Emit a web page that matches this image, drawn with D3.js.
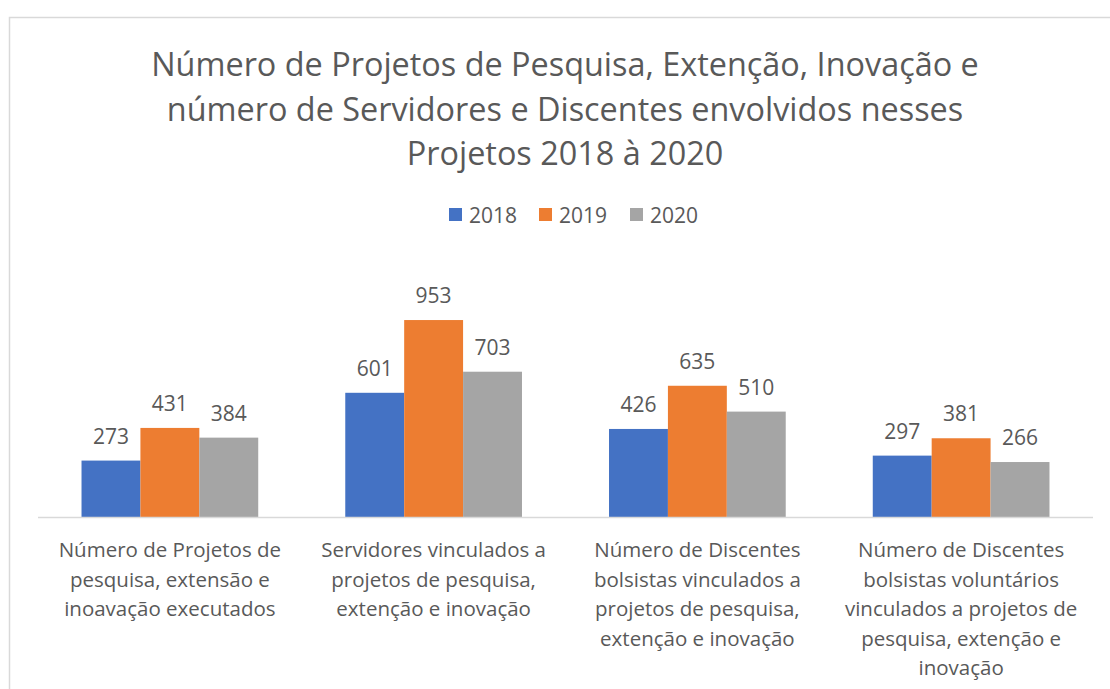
<!DOCTYPE html>
<html>
<head>
<meta charset="utf-8">
<script src="https://cdn.jsdelivr.net/npm/d3@7"></script>
<style>
  body { margin: 0; background: #fff; }
  text { font-family: "Open Sans", "Noto Sans", sans-serif; fill: #595959; }
</style>
</head>
<body>
<div id="chart"></div>
<script>
// data
const categories = [
  ["Número de Projetos de", "pesquisa, extensão e", "inoavação executados"],
  ["Servidores vinculados a", "projetos de pesquisa,", "extenção e inovação"],
  ["Número de Discentes", "bolsistas vinculados a", "projetos de pesquisa,", "extenção e inovação"],
  ["Número de Discentes", "bolsistas voluntários", "vinculados a projetos de", "pesquisa, extenção e", "inovação"]
];
const years = ["2018", "2019", "2020"];
const values2018 = [273, 601, 426, 297];
const values2019 = [431, 953, 635, 381];
const values2020 = [384, 703, 510, 266];
const colors = ["#4472C4", "#ED7D31", "#A5A5A5"];
const titleLines = [
  "Número de Projetos de Pesquisa, Extenção, Inovação e",
  "número de Servidores e Discentes envolvidos nesses",
  "Projetos 2018 à 2020"
];

const width = 1110, height = 689;
const series = [values2018, values2019, values2020];

const svg = d3.select("#chart").append("svg")
  .attr("width", width)
  .attr("height", height);

// chart frame
svg.append("rect")
  .attr("x", 9.5).attr("y", 17.5)
  .attr("width", 1130).attr("height", 700)
  .attr("fill", "#fff")
  .attr("stroke", "#d9d9d9")
  .attr("stroke-width", 1.5);

// title
svg.append("text")
  .attr("text-anchor", "middle")
  .attr("font-size", 32.4)
  .selectAll("tspan")
  .data(titleLines)
  .join("tspan")
  .attr("x", 565)
  .attr("y", (d, i) => 76 + i * 44.5)
  .text(d => d);

// scales
const plotLeft = 38, plotRight = 1093, baseY = 517;
const x0 = d3.scaleBand()
  .domain(d3.range(categories.length))
  .range([plotLeft, plotRight])
  .paddingInner(0.33)
  .paddingOuter(0.165);
const x1 = d3.scaleBand()
  .domain(years)
  .range([0, x0.bandwidth()]);
const y = d3.scaleLinear()
  .domain([0, 1200])
  .range([baseY, baseY - 248]);

// legend
const legend = svg.append("g");
const legX = [449, 539, 630];
years.forEach((yr, i) => {
  legend.append("rect")
    .attr("x", legX[i]).attr("y", 208)
    .attr("width", 13).attr("height", 13)
    .attr("fill", colors[i]);
  legend.append("text")
    .attr("x", legX[i] + 20).attr("y", 223)
    .attr("font-size", 21)
    .text(yr);
});

// bars
const groups = svg.append("g").selectAll("g")
  .data(categories.map((c, i) => i))
  .join("g")
  .attr("transform", d => `translate(${x0(d)},0)`);

groups.selectAll("rect")
  .data(d => years.map((yr, k) => ({ yr, k, v: series[k][d] })))
  .join("rect")
  .attr("x", d => x1(d.yr))
  .attr("y", d => y(d.v))
  .attr("width", x1.bandwidth())
  .attr("height", d => baseY - y(d.v))
  .attr("fill", d => colors[d.k]);

groups.selectAll("text.val")
  .data(d => years.map((yr, k) => ({ yr, k, v: series[k][d] })))
  .join("text")
  .attr("class", "val")
  .attr("x", d => x1(d.yr) + x1.bandwidth() / 2)
  .attr("y", d => y(d.v) - 17)
  .attr("text-anchor", "middle")
  .attr("font-size", 21)
  .text(d => d.v);

// baseline
svg.append("line")
  .attr("x1", plotLeft).attr("x2", plotRight)
  .attr("y1", baseY + 0.5).attr("y2", baseY + 0.5)
  .attr("stroke", "#d9d9d9")
  .attr("stroke-width", 1.5);

// category labels
svg.append("g").selectAll("text")
  .data(categories)
  .join("text")
  .attr("text-anchor", "middle")
  .attr("font-size", 20.5)
  .each(function (lines, i) {
    d3.select(this).selectAll("tspan")
      .data(lines)
      .join("tspan")
      .attr("x", x0(i) + x0.bandwidth() / 2)
      .attr("y", (d, j) => 557 + j * 29.5)
      .text(d => d);
  });
</script>
</body>
</html>
